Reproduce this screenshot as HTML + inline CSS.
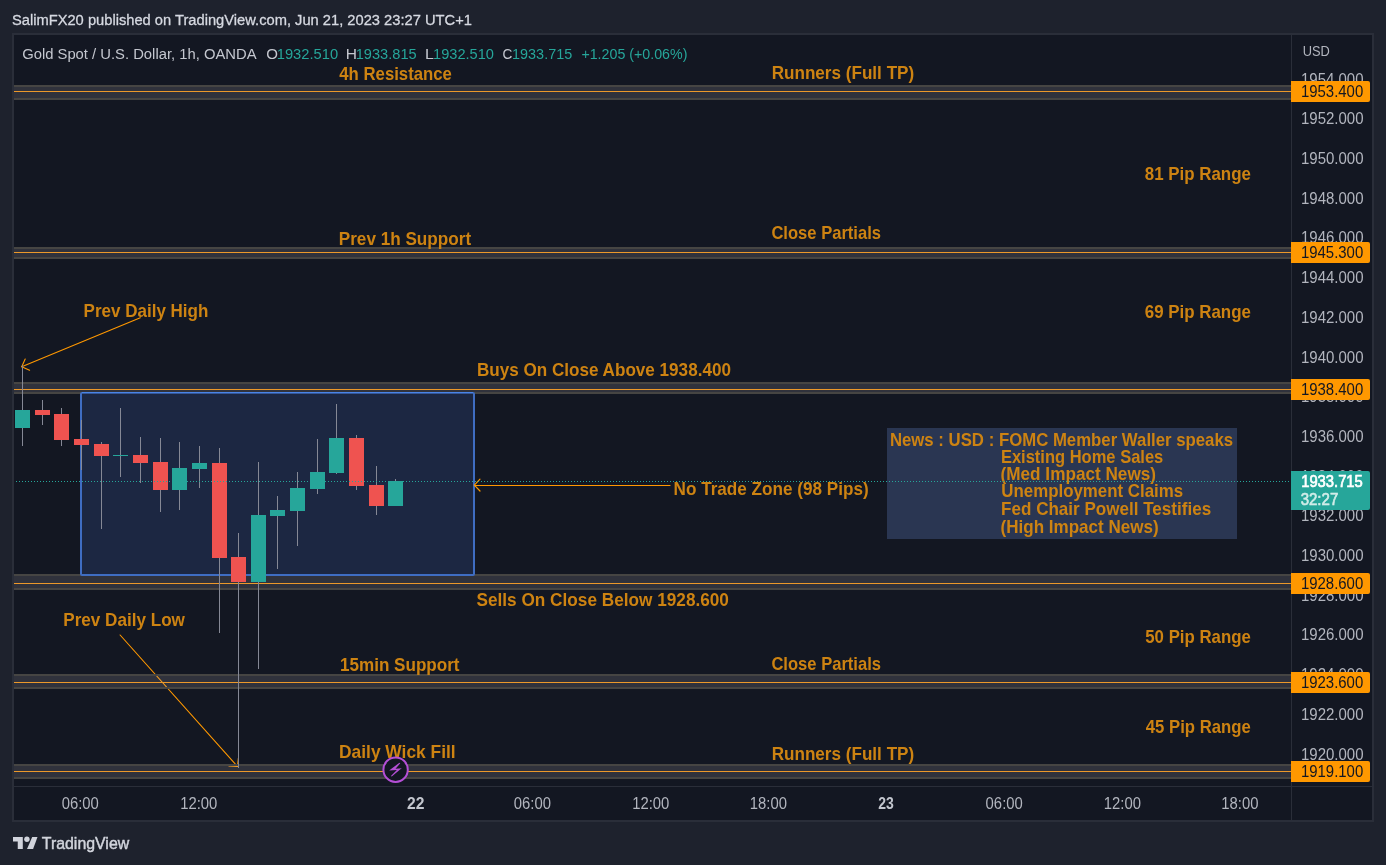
<!DOCTYPE html>
<html><head><meta charset="utf-8"><style>
html,body{margin:0;padding:0;background:#1e222d;}
body{width:1386px;height:865px;overflow:hidden;}
svg{display:block;font-family:"Liberation Sans",sans-serif;will-change:transform;}
</style></head><body>
<svg width="1386" height="865" viewBox="0 0 1386 865">
<rect width="1386" height="865" fill="#1e222d"/>
<rect x="12" y="33" width="1362" height="789" fill="#2a2e39" />
<rect x="14" y="35" width="1358" height="785" fill="#131722" />
<rect x="1291" y="35" width="1" height="785" fill="#2a2e39" />
<rect x="14" y="786" width="1358" height="1" fill="#2a2e39" />
<g stroke="#ff9800" stroke-width="1.1" fill="none" stroke-linecap="round" stroke-linejoin="round">
<line x1="140.3" y1="317.7" x2="21.7" y2="366.7"/>
<polyline points="25.2,359 21.7,366.7 29.6,370.3"/>
<line x1="120.1" y1="635" x2="237.5" y2="766.5"/>
<polyline points="229,766 237.5,766.5 238.4,758"/>
</g>
<rect x="14" y="85" width="1277" height="2" fill="#464543" />
<rect x="14" y="98" width="1277" height="2" fill="#464543" />
<rect x="14" y="87" width="1277" height="11" fill="rgba(212,210,214,0.15)" />
<rect x="14" y="91" width="1277" height="1" fill="#ec982a" />
<rect x="14" y="247" width="1277" height="2" fill="#464543" />
<rect x="14" y="257" width="1277" height="2" fill="#464543" />
<rect x="14" y="249" width="1277" height="8" fill="rgba(212,210,214,0.15)" />
<rect x="14" y="252" width="1277" height="1" fill="#ec982a" />
<rect x="14" y="382" width="1277" height="2" fill="#464543" />
<rect x="14" y="392" width="1277" height="2" fill="#464543" />
<rect x="14" y="384" width="1277" height="8" fill="rgba(212,210,214,0.15)" />
<rect x="14" y="389" width="1277" height="1" fill="#ec982a" />
<rect x="14" y="574" width="1277" height="2" fill="#464543" />
<rect x="14" y="588" width="1277" height="2" fill="#464543" />
<rect x="14" y="576" width="1277" height="12" fill="rgba(212,210,214,0.15)" />
<rect x="14" y="583" width="1277" height="1" fill="#ec982a" />
<rect x="14" y="674" width="1277" height="2" fill="#464543" />
<rect x="14" y="687" width="1277" height="2" fill="#464543" />
<rect x="14" y="676" width="1277" height="11" fill="rgba(212,210,214,0.15)" />
<rect x="14" y="682" width="1277" height="1" fill="#ec982a" />
<rect x="14" y="764" width="1277" height="2" fill="#464543" />
<rect x="14" y="777" width="1277" height="2" fill="#464543" />
<rect x="14" y="766" width="1277" height="11" fill="rgba(212,210,214,0.15)" />
<rect x="14" y="771" width="1277" height="1" fill="#ec982a" />
<rect x="80" y="392" width="395" height="184" fill="#3f6dc2" rx="2"/>
<rect x="82" y="394" width="391" height="180" fill="#1c2742" />
<rect x="82" y="392" width="391" height="1" fill="#4a84e6" />
<rect x="82" y="393" width="391" height="1" fill="#34589a" />
<g stroke="#ff9800" stroke-width="1.2" fill="none" stroke-linecap="round" stroke-linejoin="round">
<line x1="474.5" y1="485.5" x2="670" y2="485.5"/>
<polyline points="480,479.2 474.3,485.2 480,491"/>
</g>
<rect x="887" y="428" width="350" height="111" fill="#2a3652" />
<text x="339.3" y="80" font-size="18.5" fill="#cd8312" font-weight="bold" textLength="112.6" lengthAdjust="spacingAndGlyphs">4h Resistance</text>
<text x="771.68" y="79" font-size="18.5" fill="#cd8312" font-weight="bold" textLength="142.51" lengthAdjust="spacingAndGlyphs">Runners (Full TP)</text>
<text x="1144.79" y="179.7" font-size="18.5" fill="#cd8312" font-weight="bold" textLength="106.08" lengthAdjust="spacingAndGlyphs">81 Pip Range</text>
<text x="338.77" y="244.8" font-size="18.5" fill="#cd8312" font-weight="bold" textLength="132.32" lengthAdjust="spacingAndGlyphs">Prev 1h Support</text>
<text x="771.4" y="239" font-size="18.5" fill="#cd8312" font-weight="bold" textLength="109.63" lengthAdjust="spacingAndGlyphs">Close Partials</text>
<text x="83.58" y="317" font-size="18.5" fill="#cd8312" font-weight="bold" textLength="124.78" lengthAdjust="spacingAndGlyphs">Prev Daily High</text>
<text x="1144.79" y="317.7" font-size="18.5" fill="#cd8312" font-weight="bold" textLength="106.08" lengthAdjust="spacingAndGlyphs">69 Pip Range</text>
<text x="476.88" y="375.8" font-size="18.5" fill="#cd8312" font-weight="bold" textLength="254.05" lengthAdjust="spacingAndGlyphs">Buys On Close Above 1938.400</text>
<text x="673.57" y="494.8" font-size="18.5" fill="#cd8312" font-weight="bold" textLength="195.12" lengthAdjust="spacingAndGlyphs">No Trade Zone (98 Pips)</text>
<text x="476.47" y="605.8" font-size="18.5" fill="#cd8312" font-weight="bold" textLength="252.47" lengthAdjust="spacingAndGlyphs">Sells On Close Below 1928.600</text>
<text x="63.28" y="626" font-size="18.5" fill="#cd8312" font-weight="bold" textLength="121.66" lengthAdjust="spacingAndGlyphs">Prev Daily Low</text>
<text x="1145.29" y="642.8" font-size="18.5" fill="#cd8312" font-weight="bold" textLength="105.48" lengthAdjust="spacingAndGlyphs">50 Pip Range</text>
<text x="339.98" y="670.9" font-size="18.5" fill="#cd8312" font-weight="bold" textLength="119.6" lengthAdjust="spacingAndGlyphs">15min Support</text>
<text x="771.4" y="669.7" font-size="18.5" fill="#cd8312" font-weight="bold" textLength="109.63" lengthAdjust="spacingAndGlyphs">Close Partials</text>
<text x="1145.8" y="732.9" font-size="18.5" fill="#cd8312" font-weight="bold" textLength="104.97" lengthAdjust="spacingAndGlyphs">45 Pip Range</text>
<text x="339.06" y="758" font-size="18.5" fill="#cd8312" font-weight="bold" textLength="116.6" lengthAdjust="spacingAndGlyphs">Daily Wick Fill</text>
<text x="771.68" y="759.9" font-size="18.5" fill="#cd8312" font-weight="bold" textLength="142.51" lengthAdjust="spacingAndGlyphs">Runners (Full TP)</text>
<text x="889.89" y="446" font-size="18.5" fill="#cd8312" font-weight="bold" textLength="343.22" lengthAdjust="spacingAndGlyphs">News : USD : FOMC Member Waller speaks</text>
<text x="1000.91" y="463" font-size="18.5" fill="#cd8312" font-weight="bold" textLength="162.37" lengthAdjust="spacingAndGlyphs">Existing Home Sales</text>
<text x="1000.57" y="480.3" font-size="18.5" fill="#cd8312" font-weight="bold" textLength="155.45" lengthAdjust="spacingAndGlyphs">(Med Impact News)</text>
<text x="1001.29" y="497.4" font-size="18.5" fill="#cd8312" font-weight="bold" textLength="181.91" lengthAdjust="spacingAndGlyphs">Unemployment Claims</text>
<text x="1001.08" y="515.4" font-size="18.5" fill="#cd8312" font-weight="bold" textLength="210.04" lengthAdjust="spacingAndGlyphs">Fed Chair Powell Testifies</text>
<text x="1000.58" y="532.7" font-size="18.5" fill="#cd8312" font-weight="bold" textLength="158.04" lengthAdjust="spacingAndGlyphs">(High Impact News)</text>
<rect x="22" y="365" width="1" height="81" fill="#858895" />
<rect x="15" y="410" width="15" height="18" fill="#26a69a" />
<rect x="42" y="400" width="1" height="25" fill="#858895" />
<rect x="35" y="410" width="15" height="5" fill="#ef5350" />
<rect x="61" y="408" width="1" height="38" fill="#858895" />
<rect x="54" y="414" width="15" height="26" fill="#ef5350" />
<rect x="81" y="420" width="1" height="50" fill="#858895" />
<rect x="74" y="439" width="15" height="6" fill="#ef5350" />
<rect x="101" y="442" width="1" height="87" fill="#858895" />
<rect x="94" y="444" width="15" height="12" fill="#ef5350" />
<rect x="120" y="408" width="1" height="69" fill="#858895" />
<rect x="113" y="455" width="15" height="1" fill="#26a69a" />
<rect x="140" y="437" width="1" height="46" fill="#858895" />
<rect x="133" y="455" width="15" height="8" fill="#ef5350" />
<rect x="160" y="438" width="1" height="74" fill="#858895" />
<rect x="153" y="462" width="15" height="28" fill="#ef5350" />
<rect x="179" y="442" width="1" height="68" fill="#858895" />
<rect x="172" y="468" width="15" height="22" fill="#26a69a" />
<rect x="199" y="446" width="1" height="42" fill="#858895" />
<rect x="192" y="463" width="15" height="6" fill="#26a69a" />
<rect x="219" y="448" width="1" height="185" fill="#858895" />
<rect x="212" y="463" width="15" height="95" fill="#ef5350" />
<rect x="238" y="533" width="1" height="235" fill="#858895" />
<rect x="231" y="557" width="15" height="25" fill="#ef5350" />
<rect x="258" y="462" width="1" height="207" fill="#858895" />
<rect x="251" y="515" width="15" height="67" fill="#26a69a" />
<rect x="277" y="496" width="1" height="73" fill="#858895" />
<rect x="270" y="510" width="15" height="6" fill="#26a69a" />
<rect x="297" y="472" width="1" height="74" fill="#858895" />
<rect x="290" y="488" width="15" height="23" fill="#26a69a" />
<rect x="317" y="439" width="1" height="55" fill="#858895" />
<rect x="310" y="472" width="15" height="17" fill="#26a69a" />
<rect x="336" y="404" width="1" height="70" fill="#858895" />
<rect x="329" y="438" width="15" height="35" fill="#26a69a" />
<rect x="356" y="435" width="1" height="55" fill="#858895" />
<rect x="349" y="438" width="15" height="48" fill="#ef5350" />
<rect x="376" y="466" width="1" height="49" fill="#858895" />
<rect x="369" y="485" width="15" height="21" fill="#ef5350" />
<rect x="395" y="479" width="1" height="27" fill="#858895" />
<rect x="388" y="481" width="15" height="25" fill="#26a69a" />
<line x1="14" y1="481.5" x2="1291" y2="481.5" stroke="#26a69a" stroke-width="1" stroke-dasharray="1 2" stroke-dashoffset="-2"/>
<circle cx="395.6" cy="769.7" r="12.2" fill="#131722" stroke="#b44fd6" stroke-width="2"/>
<path d="M399.42,762.73 L400.27,763.32 L395.54,768.72 L401.90,768.17 L400.72,769.09 L391.76,776.42 L390.95,776.12 L396.83,769.91 L389.17,770.57 L390.73,769.35 Z" fill="#b44fd6"/>
<text x="11.95" y="24.6" font-size="15.5" fill="#d6d9e1" textLength="459.98" lengthAdjust="spacingAndGlyphs" stroke="#d6d9e1" stroke-width="0.3">SalimFX20 published on TradingView.com, Jun 21, 2023 23:27 UTC+1</text>
<text x="22.15" y="58.9" font-size="15.5" fill="#c4c7cf" textLength="234.41" lengthAdjust="spacingAndGlyphs">Gold Spot / U.S. Dollar, 1h, OANDA</text>
<text x="266.33" y="58.9" font-size="15.5" fill="#c4c7cf" textLength="11.7" lengthAdjust="spacingAndGlyphs">O</text>
<text x="276.75" y="58.9" font-size="15.5" fill="#26a69a" textLength="61.37" lengthAdjust="spacingAndGlyphs">1932.510</text>
<text x="345.8" y="58.9" font-size="15.5" fill="#c4c7cf" textLength="11.2" lengthAdjust="spacingAndGlyphs">H</text>
<text x="355.76" y="58.9" font-size="15.5" fill="#26a69a" textLength="60.86" lengthAdjust="spacingAndGlyphs">1933.815</text>
<text x="424.97" y="58.9" font-size="15.5" fill="#c4c7cf" textLength="8.87" lengthAdjust="spacingAndGlyphs">L</text>
<text x="433.06" y="58.9" font-size="15.5" fill="#26a69a" textLength="60.96" lengthAdjust="spacingAndGlyphs">1932.510</text>
<text x="502.62" y="58.9" font-size="15.5" fill="#c4c7cf" textLength="9.86" lengthAdjust="spacingAndGlyphs">C</text>
<text x="512.07" y="58.9" font-size="15.5" fill="#26a69a" textLength="60.14" lengthAdjust="spacingAndGlyphs">1933.715</text>
<text x="581.38" y="58.9" font-size="15.5" fill="#26a69a" textLength="106.06" lengthAdjust="spacingAndGlyphs">+1.205 (+0.06%)</text>
<text x="1302.77" y="55.8" font-size="15.5" fill="#b2b5be" textLength="27.14" lengthAdjust="spacingAndGlyphs">USD</text>
<text x="1300.95" y="84.6" font-size="15.8" fill="#b2b5be" textLength="62.6" lengthAdjust="spacingAndGlyphs">1954.000</text>
<text x="1300.95" y="124.3" font-size="15.8" fill="#b2b5be" textLength="62.6" lengthAdjust="spacingAndGlyphs">1952.000</text>
<text x="1300.95" y="164.0" font-size="15.8" fill="#b2b5be" textLength="62.6" lengthAdjust="spacingAndGlyphs">1950.000</text>
<text x="1300.95" y="203.7" font-size="15.8" fill="#b2b5be" textLength="62.6" lengthAdjust="spacingAndGlyphs">1948.000</text>
<text x="1300.95" y="243.4" font-size="15.8" fill="#b2b5be" textLength="62.6" lengthAdjust="spacingAndGlyphs">1946.000</text>
<text x="1300.95" y="283.1" font-size="15.8" fill="#b2b5be" textLength="62.6" lengthAdjust="spacingAndGlyphs">1944.000</text>
<text x="1300.95" y="322.8" font-size="15.8" fill="#b2b5be" textLength="62.6" lengthAdjust="spacingAndGlyphs">1942.000</text>
<text x="1300.95" y="362.5" font-size="15.8" fill="#b2b5be" textLength="62.6" lengthAdjust="spacingAndGlyphs">1940.000</text>
<text x="1300.95" y="402.2" font-size="15.8" fill="#b2b5be" textLength="62.6" lengthAdjust="spacingAndGlyphs">1938.000</text>
<text x="1300.95" y="441.9" font-size="15.8" fill="#b2b5be" textLength="62.6" lengthAdjust="spacingAndGlyphs">1936.000</text>
<text x="1300.95" y="481.6" font-size="15.8" fill="#b2b5be" textLength="62.6" lengthAdjust="spacingAndGlyphs">1934.000</text>
<text x="1300.95" y="521.3" font-size="15.8" fill="#b2b5be" textLength="62.6" lengthAdjust="spacingAndGlyphs">1932.000</text>
<text x="1300.95" y="561.0" font-size="15.8" fill="#b2b5be" textLength="62.6" lengthAdjust="spacingAndGlyphs">1930.000</text>
<text x="1300.95" y="600.7" font-size="15.8" fill="#b2b5be" textLength="62.6" lengthAdjust="spacingAndGlyphs">1928.000</text>
<text x="1300.95" y="640.4" font-size="15.8" fill="#b2b5be" textLength="62.6" lengthAdjust="spacingAndGlyphs">1926.000</text>
<text x="1300.95" y="680.1" font-size="15.8" fill="#b2b5be" textLength="62.6" lengthAdjust="spacingAndGlyphs">1924.000</text>
<text x="1300.95" y="719.8" font-size="15.8" fill="#b2b5be" textLength="62.6" lengthAdjust="spacingAndGlyphs">1922.000</text>
<text x="1300.95" y="759.5" font-size="15.8" fill="#b2b5be" textLength="62.6" lengthAdjust="spacingAndGlyphs">1920.000</text>
<path d="M1291,81 H1368 a2,2 0 0 1 2,2 V100 a2,2 0 0 1 -2,2 H1291 Z" fill="#ff9800"/>
<path d="M1291,242 H1368 a2,2 0 0 1 2,2 V261 a2,2 0 0 1 -2,2 H1291 Z" fill="#ff9800"/>
<path d="M1291,379 H1368 a2,2 0 0 1 2,2 V398 a2,2 0 0 1 -2,2 H1291 Z" fill="#ff9800"/>
<path d="M1291,573 H1368 a2,2 0 0 1 2,2 V592 a2,2 0 0 1 -2,2 H1291 Z" fill="#ff9800"/>
<path d="M1291,672 H1368 a2,2 0 0 1 2,2 V691 a2,2 0 0 1 -2,2 H1291 Z" fill="#ff9800"/>
<path d="M1291,761 H1368 a2,2 0 0 1 2,2 V780 a2,2 0 0 1 -2,2 H1291 Z" fill="#ff9800"/>
<path d="M1291,471 H1368 a2,2 0 0 1 2,2 V508 a2,2 0 0 1 -2,2 H1291 Z" fill="#26a69a"/>
<text x="1300.95" y="97.0" font-size="15.8" fill="#131722" textLength="62.29" lengthAdjust="spacingAndGlyphs">1953.400</text>
<text x="1300.95" y="258.0" font-size="15.8" fill="#131722" textLength="62.29" lengthAdjust="spacingAndGlyphs">1945.300</text>
<text x="1300.95" y="395.0" font-size="15.8" fill="#131722" textLength="62.29" lengthAdjust="spacingAndGlyphs">1938.400</text>
<text x="1300.95" y="589.0" font-size="15.8" fill="#131722" textLength="62.29" lengthAdjust="spacingAndGlyphs">1928.600</text>
<text x="1300.95" y="688.0" font-size="15.8" fill="#131722" textLength="62.29" lengthAdjust="spacingAndGlyphs">1923.600</text>
<text x="1300.95" y="777.0" font-size="15.8" fill="#131722" textLength="62.29" lengthAdjust="spacingAndGlyphs">1919.100</text>
<text x="1301.18" y="486.6" font-size="16" fill="#ffffff" textLength="61.6" lengthAdjust="spacingAndGlyphs" stroke="#ffffff" stroke-width="0.7">1933.715</text>
<text x="1300.66" y="504.8" font-size="16" fill="#d2ede9" textLength="37.58" lengthAdjust="spacingAndGlyphs" stroke="#d2ede9" stroke-width="0.6">32:27</text>
<text x="61.72" y="808.8" font-size="16" fill="#b2b5be" textLength="37.17" lengthAdjust="spacingAndGlyphs">06:00</text>
<text x="180.17" y="808.8" font-size="16" fill="#b2b5be" textLength="37.17" lengthAdjust="spacingAndGlyphs">12:00</text>
<text x="513.82" y="808.8" font-size="16" fill="#b2b5be" textLength="37.17" lengthAdjust="spacingAndGlyphs">06:00</text>
<text x="632.17" y="808.8" font-size="16" fill="#b2b5be" textLength="37.17" lengthAdjust="spacingAndGlyphs">12:00</text>
<text x="749.77" y="808.8" font-size="16" fill="#b2b5be" textLength="37.17" lengthAdjust="spacingAndGlyphs">18:00</text>
<text x="985.62" y="808.8" font-size="16" fill="#b2b5be" textLength="37.17" lengthAdjust="spacingAndGlyphs">06:00</text>
<text x="1103.82" y="808.8" font-size="16" fill="#b2b5be" textLength="37.17" lengthAdjust="spacingAndGlyphs">12:00</text>
<text x="1221.32" y="808.8" font-size="16" fill="#b2b5be" textLength="37.17" lengthAdjust="spacingAndGlyphs">18:00</text>
<text x="407.0" y="808.8" font-size="16" fill="#c3c6ce" font-weight="bold" textLength="17.38" lengthAdjust="spacingAndGlyphs">22</text>
<text x="878.3" y="808.8" font-size="16" fill="#c3c6ce" font-weight="bold" textLength="15.52" lengthAdjust="spacingAndGlyphs">23</text>
<text x="41.8" y="848.9" font-size="16.3" fill="#d1d4dc" textLength="87.42" lengthAdjust="spacingAndGlyphs" stroke="#d1d4dc" stroke-width="0.45">TradingView</text>
<g fill="#d1d4dc"><path d="M13,837 H22.8 V849 H17.75 V841.5 H13 Z"/><circle cx="26.9" cy="839.25" r="2.7"/><path d="M32.2,837 H37.5 L33.1,849 H27 Z"/></g>
</svg></body></html>
